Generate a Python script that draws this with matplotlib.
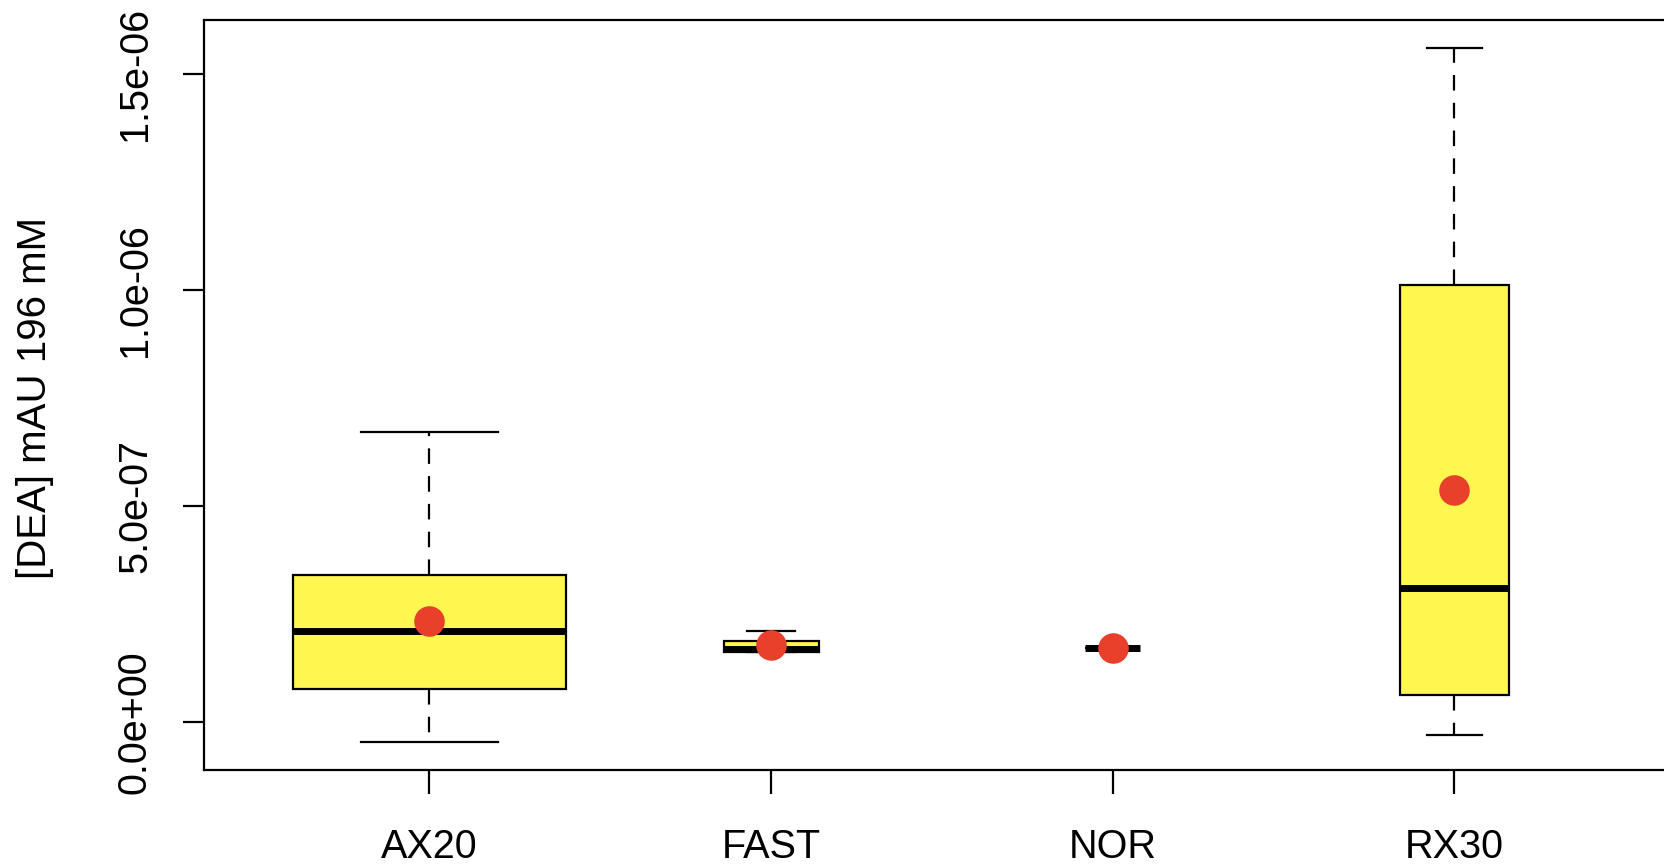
import numpy as np
import matplotlib
matplotlib.use("Agg")
import matplotlib.pyplot as plt

plt.rcParams['font.family'] = ['Liberation Sans', 'DejaVu Sans']

# ---- data ----
categories = ["AX20", "FAST", "NOR", "RX30"]
n_obs      = [25, 3, 1, 4]
whisk_lo   = [-0.471e-7, 1.62e-7, 1.716e-7, -0.295e-7]
q1         = [0.763e-7, 1.623e-7, 1.716e-7, 0.617e-7]
medians    = [2.094e-7, 1.693e-7, 1.716e-7, 3.103e-7]
q3         = [3.400e-7, 1.878e-7, 1.716e-7, 10.121e-7]
whisk_hi   = [6.723e-7, 2.110e-7, 1.716e-7, 15.61e-7]
means      = [2.326e-7, 1.786e-7, 1.716e-7, 5.369e-7]

ytick_vals   = [0.0, 5e-7, 1e-6, 1.5e-6]
ytick_labels = ["0.0e+00", "5.0e-07", "1.0e-06", "1.5e-06"]
ylabel = "[DEA] mAU 196 mM"

W, H = 1665, 866
fig = plt.figure(figsize=(W / 100, H / 100), dpi=100)
ax_left = 204 / W
ax_bottom = 1 - 770 / H
ax_top = 1 - 20.2 / H
ax_w = 1476 / W
ax = fig.add_axes([ax_left, ax_bottom, ax_w, ax_top - ax_bottom])

positions = np.arange(1, len(categories) + 1)
nmax = max(n_obs)
widths = [0.8 * np.sqrt(n / nmax) for n in n_obs]
capw = [w / 2 for w in widths]

stats = []
for i, c in enumerate(categories):
    stats.append(dict(label=c, med=medians[i], q1=q1[i], q3=q3[i],
                      whislo=whisk_lo[i], whishi=whisk_hi[i], fliers=[]))

lw = 1.6
ax.bxp(stats, positions=positions, widths=widths, capwidths=capw,
       patch_artist=True, showfliers=False,
       boxprops=dict(facecolor="#FFF650", edgecolor="black", linewidth=lw),
       medianprops=dict(color="black", linewidth=5, solid_capstyle="butt"),
       whiskerprops=dict(color="black", linewidth=lw, linestyle=(0, (7, 5.5))),
       capprops=dict(color="black", linewidth=lw))

ax.plot(positions, means, "o", color="#E8402A", markersize=22, zorder=5,
        markeredgewidth=0)

# R-style limits (4% extension)
lo, hi = min(whisk_lo), max(whisk_hi)
r = hi - lo
ax.set_ylim(lo - 0.04 * r, hi + 0.04 * r)
ax.set_xlim(0.5 - 0.04 * len(categories), len(categories) + 0.5 + 0.04 * len(categories))

ax.set_yticks(ytick_vals)
ax.set_yticklabels(ytick_labels, rotation=90, va="center")
ax.set_xticks(positions)
ax.set_xticklabels(categories)
ax.tick_params(axis="y", length=15, width=lw, labelsize=28.5, pad=21)
ax.tick_params(axis="x", length=17, width=lw, labelsize=28.5, pad=24.5)

for s in ax.spines.values():
    s.set_linewidth(lw)
    s.set_color("black")

fig.text(35 / W, 1 - 398 / H, ylabel, rotation=90, ha="center", va="center",
         fontsize=29)

fig.savefig("out.png", dpi=100)
